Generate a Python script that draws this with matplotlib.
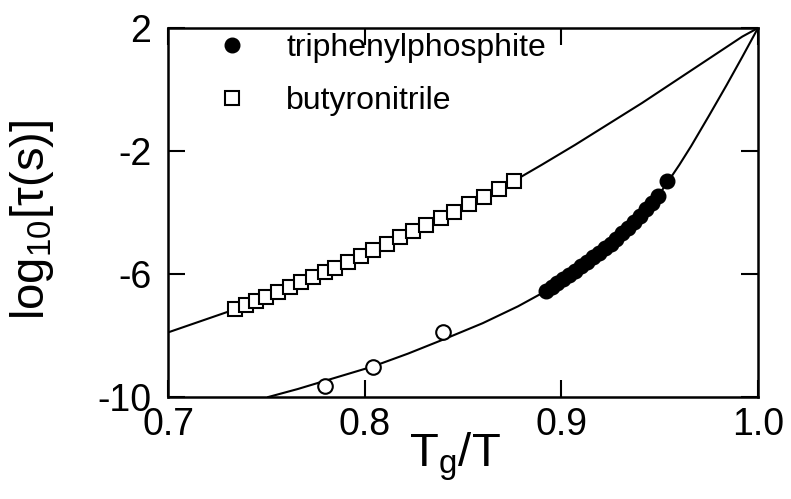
import matplotlib
matplotlib.use('Agg')
import matplotlib.pyplot as plt

plt.rcParams['font.family'] = ['Liberation Sans', 'DejaVu Sans']
plt.rcParams['mathtext.fontset'] = 'custom'
plt.rcParams['mathtext.rm'] = 'Liberation Sans'
plt.rcParams['mathtext.it'] = 'Liberation Sans:italic'
plt.rcParams['axes.unicode_minus'] = False

# butyronitrile (open squares)
buty_x = [0.7341, 0.7397, 0.7448, 0.7499, 0.7560, 0.7622, 0.7678, 0.7739,
          0.7800, 0.7851, 0.7917, 0.7983, 0.8044, 0.8111, 0.8182, 0.8248,
          0.8314, 0.8386, 0.8452, 0.8528, 0.8605, 0.8681, 0.8758]
buty_y = [-7.15, -7.01, -6.88, -6.75, -6.58, -6.42, -6.27, -6.10,
          -5.93, -5.79, -5.60, -5.41, -5.23, -5.03, -4.81, -4.61,
          -4.41, -4.18, -3.97, -3.73, -3.48, -3.23, -2.97]

# triphenylphosphite (filled circles)
tpp_x = [0.892, 0.895, 0.898, 0.901, 0.904, 0.907, 0.910, 0.913, 0.916, 0.919,
         0.922, 0.925, 0.928, 0.931, 0.934, 0.937, 0.940, 0.943, 0.946, 0.949,
         0.9537]
tpp_y = [-6.56, -6.43, -6.30, -6.17, -6.03, -5.89, -5.75, -5.61, -5.46, -5.31,
         -5.16, -5.01, -4.86, -4.68, -4.50, -4.30, -4.10, -3.89, -3.68, -3.47,
         -2.97]

# low temperature points (open circles)
low_x = [0.780, 0.804, 0.840]
low_y = [-9.63, -9.01, -7.87]

# fit curves
fit1_x = [0.700, 0.734, 0.768, 0.804, 0.845, 0.876, 0.890, 0.907, 0.924,
          0.941, 0.958, 0.975, 0.992, 1.000]
fit1_y = [-7.90, -7.15, -6.27, -5.23, -3.97, -2.97, -2.45, -1.80, -1.12,
          -0.44, 0.28, 1.00, 1.72, 2.00]
fit2_x = [0.751, 0.766, 0.780, 0.804, 0.822, 0.840, 0.860, 0.878, 0.892,
          0.904, 0.916, 0.928, 0.940, 0.949, 0.9537, 0.960, 0.966, 0.975,
          0.984, 0.992, 1.000]
fit2_y = [-10.00, -9.74, -9.47, -9.01, -8.59, -8.13, -7.60, -7.05, -6.56,
          -6.03, -5.46, -4.86, -4.10, -3.47, -3.05, -2.45, -1.84, -0.86,
          0.14, 1.06, 2.00]

fig = plt.figure(figsize=(7.91, 4.99), dpi=100)
ax = fig.add_axes([0.2124, 0.2044, 0.7459, 0.7395])

ax.plot(fit1_x, fit1_y, color='black', lw=1.5, zorder=1)
ax.plot(fit2_x, fit2_y, color='black', lw=1.5, zorder=1)

h1, = ax.plot(tpp_x, tpp_y, 'o', ms=10.5, mfc='black', mec='black', zorder=3,
              label='triphenylphosphite')
h2, = ax.plot(buty_x, buty_y, 's', ms=10, mfc='white', mec='black', mew=1.5,
              zorder=3, label='butyronitrile')
ax.plot(low_x, low_y, 'o', ms=10.5, mfc='white', mec='black', mew=1.5, zorder=3)

ax.set_xlim(0.7, 1.0)
ax.set_ylim(-10, 2)
ax.set_xticks([0.7, 0.8, 0.9, 1.0])
ax.set_xticklabels(['0.7', '0.8', '0.9', '1.0'])
ax.set_yticks([2, -2, -6, -10])
ax.set_yticklabels(['2', '-2', '-6', '-10'])
ax.tick_params(direction='in', length=12, width=1.5, top=True, right=True,
               labelsize=27)
ax.tick_params(axis='x', pad=7)
ax.tick_params(axis='y', pad=12)
for s in ax.spines.values():
    s.set_linewidth(1.8)

ax.set_xlabel('T$_\\mathregular{g}$/T', fontsize=34)
ax.xaxis.set_label_coords(0.486, -0.09)
ax.set_ylabel('log$_{10}$[τ(s)]', fontsize=34)
ax.yaxis.set_label_coords(-0.19, 0.48)

ax.legend(handles=[h1, h2], loc='upper left', bbox_to_anchor=(0.06, 1.02),
          frameon=False, fontsize=23, handlelength=1.0, handletextpad=1.2,
          labelspacing=0.7, borderaxespad=0)

fig.savefig('out.png', dpi=100)
